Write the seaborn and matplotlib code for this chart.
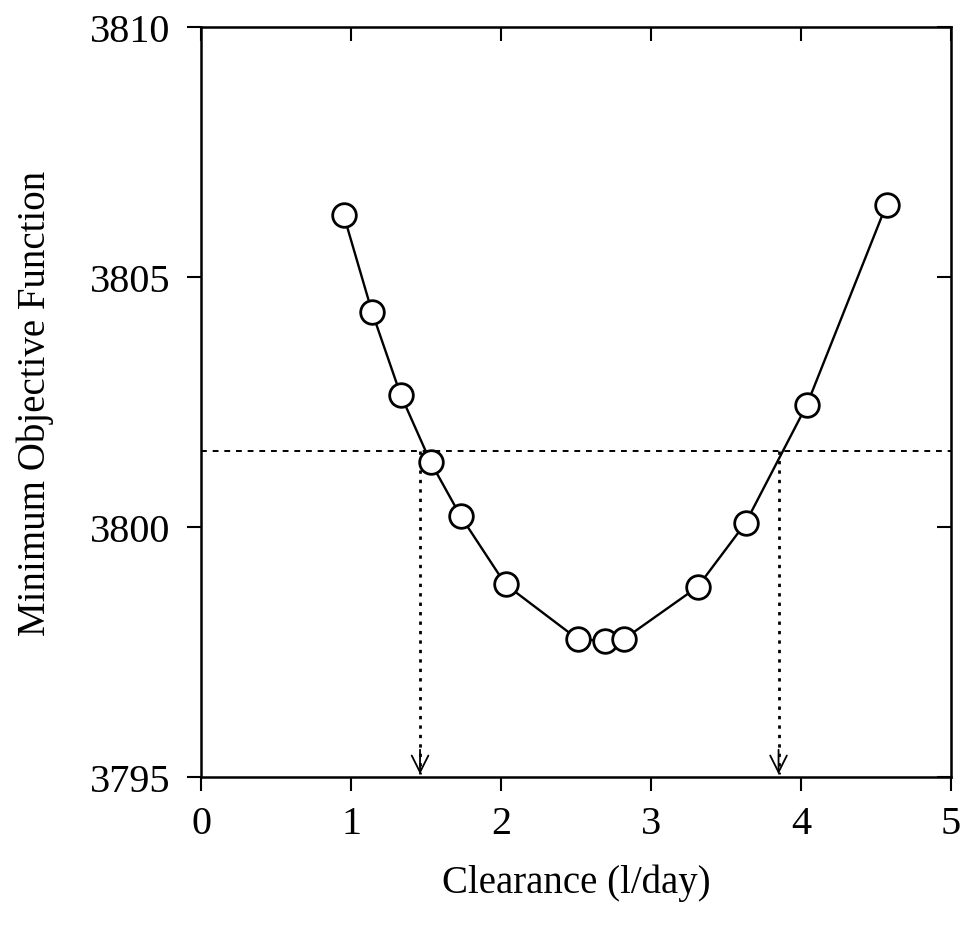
import matplotlib.pyplot as plt
import pandas as pd
import seaborn as sns

# --- Data ---
clearance = [0.95, 1.14, 1.33, 1.53, 1.73, 2.03, 2.51, 2.69, 2.82, 3.31, 3.63, 4.04, 4.57]
objective = [3806.25, 3804.3, 3802.65, 3801.3, 3800.22, 3798.85, 3797.76, 3797.72, 3797.76,
             3798.8, 3800.08, 3802.45, 3806.45]
threshold = 3801.52
bounds = [1.46, 3.85]

sns.set_style("ticks")
plt.rcParams["font.family"] = ["Liberation Serif", "DejaVu Serif"]
plt.rcParams.update({"text.color": "black", "axes.labelcolor": "black",
                     "xtick.color": "black", "ytick.color": "black",
                     "axes.edgecolor": "black"})

df = pd.DataFrame({"clearance": clearance, "objective": objective})

fig = plt.figure(figsize=(9.67, 9.37), dpi=100)
ax = fig.add_axes([0.2079, 0.1697, 0.7756, 0.8004])

sns.lineplot(data=df, x="clearance", y="objective", ax=ax, color="black", lw=1.7,
             marker="o", markersize=17, markerfacecolor="white",
             markeredgecolor="black", markeredgewidth=2.0, zorder=3)

# --- confidence threshold and arrows ---
ax.axhline(threshold, color="black", lw=1.4, ls=(0, (3, 3)), zorder=2)
for xb in bounds:
    ax.plot([xb, xb], [threshold, 3795.05], color="black", lw=2.0, ls=(0, (1.2, 2.2)), zorder=2)
    ax.annotate("", xy=(xb, 3795.0), xytext=(xb, 3795.6),
                arrowprops=dict(arrowstyle="->", color="black", lw=1.3, mutation_scale=30))

ax.set_xlim(0, 5)
ax.set_ylim(3795, 3810)
ax.set_xticks([0, 1, 2, 3, 4, 5])
ax.set_yticks([3795, 3800, 3805, 3810])
ax.tick_params(axis="both", direction="out", length=10, width=1.5, labelsize=29)
ax.tick_params(axis="x", pad=10)
ax.tick_params(axis="y", pad=12)

# top / right ticks point inward
top = ax.secondary_xaxis("top")
top.set_xticks([0, 1, 2, 3, 4, 5])
top.tick_params(direction="in", length=10, width=1.5, labeltop=False)
right = ax.secondary_yaxis("right")
right.set_yticks([3795, 3800, 3805, 3810])
right.tick_params(direction="in", length=10, width=1.5, labelright=False)

for spine in ax.spines.values():
    spine.set_linewidth(1.8)

ax.set_xlabel("Clearance (l/day)", fontsize=28, labelpad=16)
ax.set_ylabel("Minimum Objective Function", fontsize=28, labelpad=26)

fig.savefig("out.png", dpi=100)
